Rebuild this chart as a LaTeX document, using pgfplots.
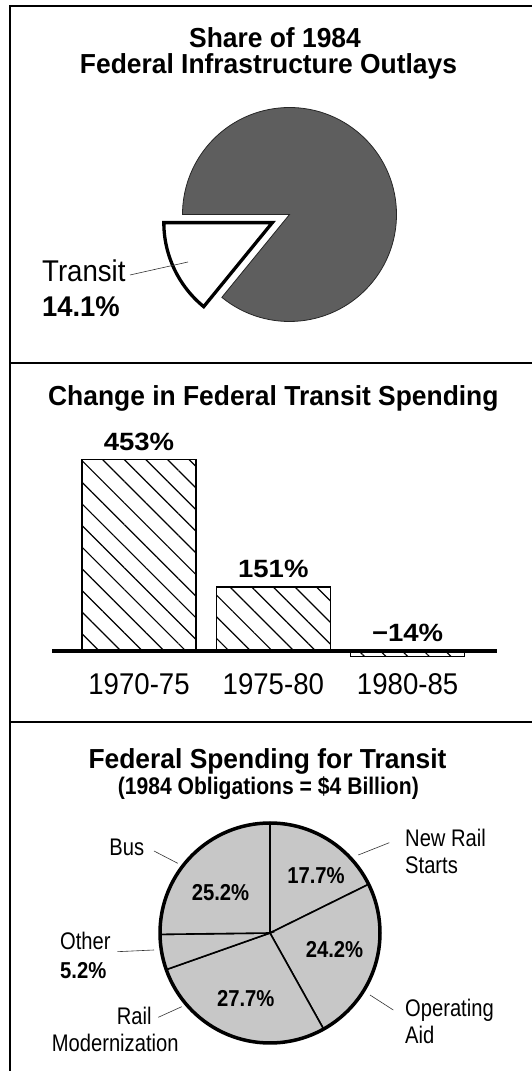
\documentclass[border=0pt]{standalone}
\usepackage{pgfplots}
\pgfplotsset{compat=1.18}
\usetikzlibrary{patterns.meta}
\usepackage{fontspec}
\setmainfont{Liberation Sans}
\newfontfamily\fR{Liberation Sans}[FakeStretch=0.92]
\newfontfamily\fRn{Liberation Sans}[FakeStretch=0.84]
\newfontfamily\fB{Liberation Sans}[FakeStretch=0.96]
\newfontfamily\fBn{Liberation Sans}[FakeStretch=0.88]
\newfontfamily\fBw{Liberation Sans}[FakeStretch=1.1]

\newcommand\ttl{\fB\bfseries\fontsize{27.5}{30}\selectfont}
\newcommand\lbl{\fRn\fontsize{24}{26}\selectfont}
\newcommand\pct{\fBn\bfseries\fontsize{23}{25}\selectfont}

\begin{document}
\begin{tikzpicture}[x=1pt, y=1pt, every node/.append style={inner sep=0pt}]

% frame and panel separators
\draw[line width=2pt] (9.5,-20) -- (9.5,1064.5) -- (560,1064.5);
\draw[line width=1.6pt] (9.5,708) -- (560,708);
\draw[line width=1.6pt] (9.5,349) -- (560,349);

% titles
\node[anchor=base, font=\ttl] at (275,1023.3) {Share of 1984};
\node[anchor=base, font=\ttl] at (268.5,997.7) {Federal Infrastructure Outlays};
\node[anchor=base, font=\ttl] at (273.3,665) {Change in Federal Transit Spending};
\node[anchor=base, font=\ttl] at (267.5,302.7) {Federal Spending for Transit};
\node[anchor=base, font=\fBn\bfseries\fontsize{24}{26}\selectfont] at (268.3,276) {(1984 Obligations = \$4 Billion)};

% ---- panel 1: share of infrastructure outlays
\def\transitshare{14.1}
\pgfmathsetmacro\tA{180+3.6*\transitshare}
\pgfmathsetmacro\tM{180+1.8*\transitshare}
\begin{axis}[at={(289.5pt,856.5pt)}, anchor=origin, x=1pt, y=1pt,
  xmin=-110, xmax=110, ymin=-110, ymax=110, hide axis, clip=false]
\filldraw[fill=black!63, draw=black!85, line width=0.8pt]
  (0,0) -- ({107*cos(\tA)},{107*sin(\tA)}) arc[start angle=\tA, end angle=540, radius=107pt] -- cycle;
\filldraw[fill=white, draw=black, line width=3.3pt, line join=miter]
  ({19*cos(\tM)},{19*sin(\tM)}) -- ++(180:108.5pt) arc[start angle=180, end angle=\tA, radius=108.5pt] -- cycle;
\draw[line width=0.6pt, black!80] (-159.5,-60.5) -- (-101.5,-47.5);
\node[anchor=base west, font=\fR\fontsize{30}{32}\selectfont] at (-247.5,-67.2) {Transit};
\node[anchor=base west, font=\fB\bfseries\fontsize{28.5}{30}\selectfont] at (-247.5,-102.5) {14.1\%};
\end{axis}

% ---- panel 2: change in spending
\begin{axis}[at={(52pt,397.7pt)}, anchor=south west, x=134.3pt, y=0.4225pt,
  xmin=-0.648, xmax=2.666, ymin=-53.5, ymax=470,
  axis line style={draw=none}, tick style={draw=none},
  xtick={0,1,2}, xticklabels={1970-75,1975-80,1980-85},
  ytick=\empty, clip=false,
  xticklabel style={font=\fR\fontsize{30}{32}\selectfont, inner sep=0pt, anchor=north}]
\addplot[ybar, bar width=114pt, bar shift=0pt, draw=black, line width=1.3pt,
  pattern={Lines[angle=-45, distance=15.3pt, line width=1.2pt]}]
  coordinates {(0,453) (1,151) (2,-14)};
\addplot[draw=none, mark=none, nodes near coords, point meta=explicit symbolic,
  every node near coord/.append style={yshift=8.5pt, inner sep=0pt,
    font=\fBw\bfseries\fontsize{25}{27}\selectfont}]
  coordinates {(0,453) [453\%] (1,151) [151\%] (2,0) [−14\%]};
\draw[line width=4pt] (-0.648,0) -- (2.666,0);
\end{axis}

% ---- panel 3: federal spending for transit
\begin{axis}[at={(270pt,138pt)}, anchor=origin, x=1pt, y=1pt,
  xmin=-115, xmax=115, ymin=-115, ymax=115, hide axis, clip=false]
\def\acur{90}
\pgfplotsforeachungrouped \v in {17.7,24.2,27.7,5.2,25.2}{%
  \pgfmathsetmacro\anext{\acur-3.6*\v}%
  \edef\temp{\noexpand\filldraw[fill=black!22, draw=black, line width=1.6pt]
    (0,0) -- ({110*cos(\acur)},{110*sin(\acur)}) arc[start angle=\acur, end angle=\anext, radius=110pt] -- cycle;}%
  \temp
  \let\acur\anext
}
\draw[line width=3.5pt] (0,0) circle[radius=110pt];
\node[font=\pct] at (46,57.5) {17.7\%};
\node[font=\pct] at (64.5,-17) {24.2\%};
\node[font=\pct] at (-24.2,-65.3) {27.7\%};
\node[font=\pct] at (-49.5,40.2) {25.2\%};
\draw[line width=0.6pt, black!80] (-116,82) -- (-92.3,69.7);
\draw[line width=0.6pt, black!80] (88.3,78) -- (119.3,90.3);
\draw[line width=0.6pt, black!80] (-152.7,-18.7) -- (-116,-17);
\draw[line width=0.6pt, black!80] (-111.7,-84.3) -- (-88.3,-73.7);
\draw[line width=0.6pt, black!80] (100,-62) -- (123.3,-77);
\node[anchor=base east, font=\lbl] at (-125.7,77.3) {Bus};
\node[anchor=base west, font=\lbl] at (135,86.3) {New Rail};
\node[anchor=base west, font=\lbl] at (135,59.7) {Starts};
\node[anchor=base west, font=\lbl] at (-210,-17) {Other};
\node[anchor=base west, font=\pct] at (-210,-45.3) {5.2\%};
\node[anchor=base east, font=\lbl] at (-118.3,-92) {Rail};
\node[anchor=base west, font=\lbl] at (-218.3,-118.7) {Modernization};
\node[anchor=base west, font=\lbl] at (135,-83.7) {Operating};
\node[anchor=base west, font=\lbl] at (135,-110.3) {Aid};
\end{axis}

\pgfresetboundingbox
\useasboundingbox (0,0) rectangle (532,1071);
\end{tikzpicture}
\end{document}
